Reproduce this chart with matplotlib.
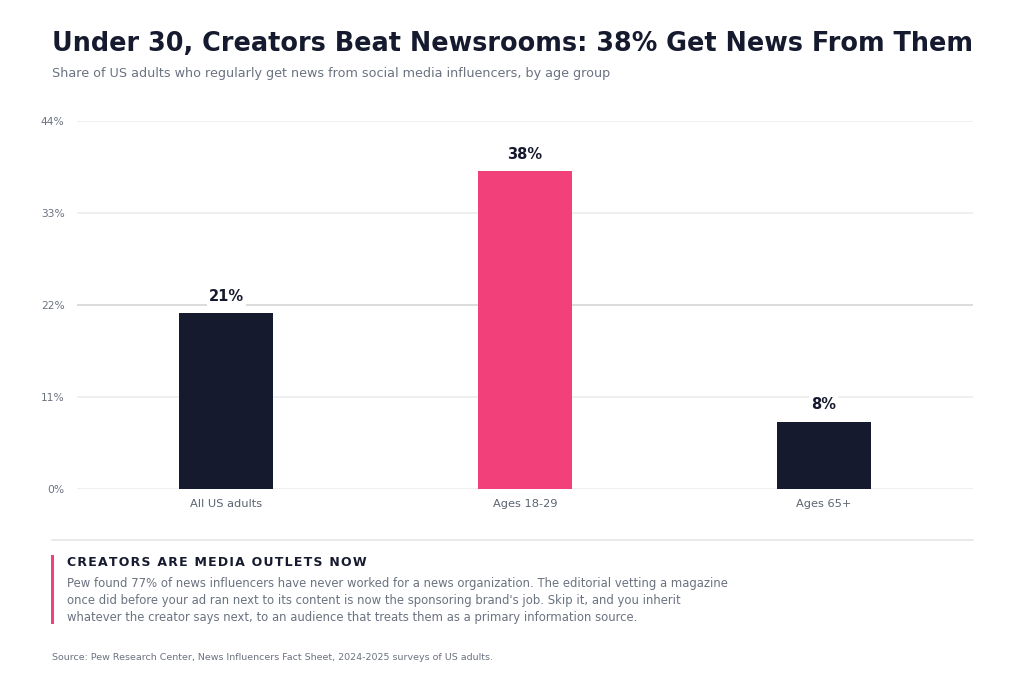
import matplotlib
matplotlib.use("Agg")
import matplotlib.pyplot as plt
from matplotlib.patches import Rectangle
from matplotlib.lines import Line2D

# data
groups = ["All US adults", "Ages 18-29", "Ages 65+"]
shares = [21, 38, 8]
highlight = "Ages 18-29"
yticks = [0, 11, 22, 33, 44]

dark = "#161a2e"
pink = "#f2407a"
grey_txt = "#6b7280"

fig = plt.figure(figsize=(10.24, 6.83), dpi=100)
ax = fig.add_axes([77/1024, 1-489/683, 896/1024, 368/683])

colors = [pink if g == highlight else dark for g in groups]
x = range(len(groups))
ax.bar(x, shares, width=0.315, color=colors, zorder=3)

for xi, v in zip(x, shares):
    ax.text(xi, v + 1.15, f"{v}%", ha="center", va="bottom", fontsize=10.5,
            fontweight="bold", color=dark, zorder=4,
            bbox=dict(boxstyle="square,pad=0.15", fc="white", ec="none"))

ax.set_xlim(-0.5, 2.5)
ax.set_ylim(0, 44)
ax.set_yticks(yticks)
ax.set_yticklabels([f"{t}%" for t in yticks])
for t in yticks:
    col = "#d2d2d2" if t == 22 else "#ebebeb"
    ax.axhline(t, color=col, lw=1.1, zorder=1)

ax.set_xticks(list(x))
ax.set_xticklabels(groups)
ax.tick_params(axis="x", length=0, pad=7, labelsize=8.2, labelcolor="#5b6472")
ax.tick_params(axis="y", length=0, pad=9, labelsize=7.7, labelcolor=grey_txt)
for s in ax.spines.values():
    s.set_visible(False)

# header
fig.text(52/1024, 1-44/683, "Under 30, Creators Beat Newsrooms: 38% Get News From Them",
         fontsize=18.4, fontweight="bold", color=dark, va="center", ha="left")
fig.text(52/1024, 1-74/683,
         "Share of US adults who regularly get news from social media influencers, by age group",
         fontsize=9.15, color=grey_txt, va="center", ha="left")

# separator and callout
fig.add_artist(Line2D([52/1024, 973/1024], [1-540/683, 1-540/683], color="#e6e6e6", lw=1.2))
fig.add_artist(Rectangle((51/1024, 1-624/683), 3/1024, 69/683, color=pink, lw=0))
fig.text(67/1024, 1-563/683, "\u200a".join("CREATORS ARE MEDIA OUTLETS NOW"),
         fontsize=9, fontweight="bold", color=dark, va="center", ha="left")
body = ["Pew found 77% of news influencers have never worked for a news organization. The editorial vetting a magazine",
        "once did before your ad ran next to its content is now the sponsoring brand's job. Skip it, and you inherit",
        "whatever the creator says next, to an audience that treats them as a primary information source."]
for i, line in enumerate(body):
    fig.text(67/1024, 1-(587 + 17*i)/683, line, fontsize=8.36, color=grey_txt,
             va="baseline", ha="left")

fig.text(52/1024, 1-658/683,
         "Source: Pew Research Center, News Influencers Fact Sheet, 2024-2025 surveys of US adults.",
         fontsize=6.8, color=grey_txt, va="center", ha="left")

fig.savefig("out.png", dpi=100, facecolor="white")
